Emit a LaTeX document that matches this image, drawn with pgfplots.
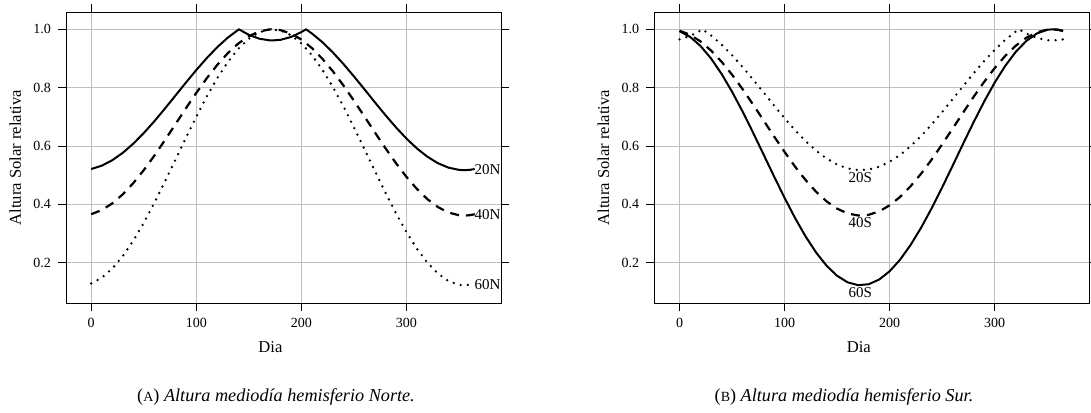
\documentclass[border=0pt]{standalone}
\usepackage{fontspec}
\setmainfont{Liberation Serif}
\usepackage{pgfplots}
\pgfplotsset{compat=1.18}
\tikzset{
 solidc/.style={black, line width=1pt, line join=round},
 dashc/.style={black, line width=1.1pt, dash pattern=on 4.5pt off 3.5pt},
 dotc/.style={black, line width=1.3pt, line cap=round, dash pattern=on 0pt off 3.6pt},
 lab/.style={font=\fontsize{7.5}{9}\selectfont, inner sep=0pt},
}
\pgfplotsset{
 panel/.style={
  scale only axis, width=217.5pt, height=145.65pt,
  xmin=-24, xmax=390, ymin=0.061, ymax=1.0593,
  xtick={0,100,200,300}, ytick={0.2,0.4,0.6,0.8,1.0},
  tick align=outside, major tick length=4pt,
  tick style={black, line width=0.5pt},
  axis line style={line width=0.5pt},
  grid=major, major grid style={gray!50, line width=0.5pt},
  /pgf/number format/assume math mode=true,
  yticklabel style={/pgf/number format/.cd, fixed, fixed zerofill, precision=1, /tikz/.cd, font=\fontsize{7}{8}\selectfont},
  xticklabel style={font=\fontsize{7}{8}\selectfont},
  xlabel={Dia}, ylabel={Altura Solar relativa},
  every axis x label/.style={at={(axis description cs:0.47,-0.15)}, anchor=center, font=\fontsize{8.3}{10}\selectfont},
  every axis y label/.style={at={(axis description cs:-0.117,0.5)}, rotate=90, anchor=center, font=\fontsize{8.3}{10}\selectfont},
  clip=false,
 },
}
\begin{document}
\begin{tikzpicture}
\begin{axis}[panel, at={(33pt,-6pt)}, anchor=north west]
\addplot[solidc] coordinates {(0,0.5212)(10,0.5326)(20,0.5513)(30,0.5766)(40,0.6080)(50,0.6443)(60,0.6846)(70,0.7277)(80,0.7722)(90,0.8169)(100,0.8604)(110,0.9015)(120,0.9389)(130,0.9716)(140.6,1.0)(150,0.9811)(160,0.9678)(170,0.9620)(172,0.9618)(180,0.9639)(190,0.9735)(200,0.9904)(204.4,1.0)(210,0.9858)(220,0.9559)(230,0.9207)(240,0.8813)(250,0.8388)(260,0.7946)(270,0.7498)(280,0.7059)(290,0.6641)(300,0.6256)(310,0.5917)(320,0.5632)(330,0.5411)(340,0.5260)(350,0.5183)(355,0.5173)(360,0.5183)(365,0.5212)};
\addplot[dashc] coordinates {(0,0.3664)(10,0.3804)(20,0.4033)(30,0.4343)(40,0.4728)(50,0.5173)(60,0.5667)(70,0.6194)(80,0.6740)(90,0.7287)(100,0.7821)(110,0.8324)(120,0.8783)(130,0.9183)(140,0.9513)(150,0.9763)(160,0.9926)(170,0.9997)(172,1.0)(180,0.9973)(190,0.9856)(200,0.9649)(210,0.9358)(220,0.8991)(230,0.8560)(240,0.8077)(250,0.7557)(260,0.7014)(270,0.6466)(280,0.5927)(290,0.5415)(300,0.4943)(310,0.4528)(320,0.4179)(330,0.3908)(340,0.3722)(350,0.3628)(355,0.3617)(360,0.3628)(365,0.3664)};
\addplot[dotc] coordinates {(0,0.1292)(10,0.1485)(20,0.1800)(30,0.2226)(40,0.2754)(50,0.3366)(60,0.4045)(70,0.4770)(80,0.5520)(90,0.6272)(100,0.7005)(110,0.7697)(120,0.8328)(130,0.8878)(140,0.9331)(150,0.9675)(160,0.9899)(170,0.9996)(180,0.9964)(190,0.9802)(200,0.9518)(210,0.9117)(220,0.8613)(230,0.8021)(240,0.7358)(250,0.6642)(260,0.5897)(270,0.5143)(280,0.4403)(290,0.3699)(300,0.3051)(310,0.2480)(320,0.2000)(330,0.1628)(340,0.1373)(350,0.1244)(355,0.1228)(360,0.1244)(365,0.1292)};
\node[lab, anchor=west] at (axis cs:364.5,0.52) {20N};
\node[lab, anchor=west] at (axis cs:364.5,0.366) {40N};
\node[lab, anchor=west] at (axis cs:364.5,0.126) {60N};
\end{axis}
\begin{axis}[panel, at={(327.15pt,-6pt)}, anchor=north west]
\addplot[dotc] coordinates {(0,0.9656)(10,0.9771)(20,0.9957)(21.9,1.0)(30,0.9789)(40,0.9476)(50,0.9112)(60,0.8709)(70,0.8279)(80,0.7834)(90,0.7387)(100,0.6952)(110,0.6541)(120,0.6166)(130,0.5840)(140,0.5570)(150,0.5366)(160,0.5233)(170,0.5176)(180,0.5195)(190,0.5291)(200,0.5460)(210,0.5698)(220,0.5997)(230,0.6349)(240,0.6742)(250,0.7167)(260,0.7610)(270,0.8057)(280,0.8497)(290,0.8915)(300,0.9300)(310,0.9639)(320,0.9923)(323.1,1.0)(330,0.9855)(340,0.9704)(350,0.9627)(360,0.9627)(365,0.9656)};
\addplot[dashc] coordinates {(0,0.9953)(10,0.9813)(20,0.9584)(30,0.9273)(40,0.8889)(50,0.8444)(60,0.7950)(70,0.7423)(80,0.6877)(90,0.6329)(100,0.5796)(110,0.5292)(120,0.4834)(130,0.4433)(140,0.4103)(150,0.3853)(160,0.3690)(170,0.3620)(180,0.3643)(190,0.3760)(200,0.3968)(210,0.4259)(220,0.4626)(230,0.5057)(240,0.5539)(250,0.6060)(260,0.6602)(270,0.7151)(280,0.7690)(290,0.8202)(300,0.8673)(310,0.9089)(320,0.9438)(330,0.9709)(340,0.9894)(350,0.9988)(355,1.0)(360,0.9988)(365,0.9953)};
\addplot[solidc] coordinates {(0,0.9935)(10,0.9743)(20,0.9428)(30,0.9001)(40,0.8473)(50,0.7861)(60,0.7183)(70,0.6458)(80,0.5708)(90,0.4956)(100,0.4223)(110,0.3530)(120,0.2900)(130,0.2350)(140,0.1896)(150,0.1553)(160,0.1329)(170,0.1232)(180,0.1264)(190,0.1425)(200,0.1710)(210,0.2110)(220,0.2615)(230,0.3207)(240,0.3870)(250,0.4585)(260,0.5331)(270,0.6085)(280,0.6825)(290,0.7529)(300,0.8177)(310,0.8748)(320,0.9227)(330,0.9600)(340,0.9855)(350,0.9984)(355,1.0)(360,0.9984)(365,0.9935)};
\node[lab, anchor=north, inner sep=1pt] at (axis cs:172,0.5173) {20S};
\node[lab, anchor=north, inner sep=1pt] at (axis cs:172,0.3617) {40S};
\node[lab, anchor=north, inner sep=1pt] at (axis cs:172,0.1228) {60S};
\end{axis}
\node[font=\fontsize{9.1}{11}\selectfont] at (138pt,-198.5pt) {({\fontsize{7}{8}\selectfont A})~\textit{Altura mediodía hemisferio Norte.}};
\node[font=\fontsize{9.1}{11}\selectfont] at (422pt,-198.5pt) {({\fontsize{7}{8}\selectfont B})~\textit{Altura mediodía hemisferio Sur.}};
\pgfresetboundingbox
\useasboundingbox (0,0) rectangle (545.5pt,-206pt);
\end{tikzpicture}
\end{document}
